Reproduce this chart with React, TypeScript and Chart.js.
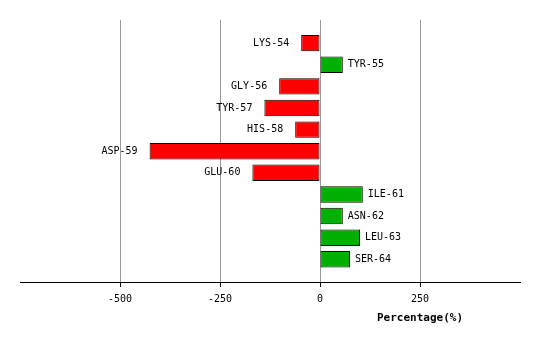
import { useEffect, useRef } from 'react';
import { Chart, registerables } from 'chart.js';

Chart.register(...registerables);

const residues = ['LYS-54', 'TYR-55', 'GLY-56', 'TYR-57', 'HIS-58', 'ASP-59', 'GLU-60', 'ILE-61', 'ASN-62', 'LEU-63', 'SER-64'];
const percentages = [-47, 57, -102, -139, -62, -426, -169, 107, 57, 100, 75];
const xTickValues = [-500, -250, 0, 250];
const xMin = -750;
const xMax = 500;
const axisTitle = 'Percentage(%)';

const labelPlugin = {
  id: 'barLabels',
  afterDatasetsDraw(chart: any) {
    const ctx = chart.ctx;
    const meta = chart.getDatasetMeta(0);
    ctx.save();
    ctx.font = '10px "DejaVu Sans Mono"';
    ctx.fillStyle = '#000';
    ctx.textBaseline = 'middle';
    meta.data.forEach((el: any, i: number) => {
      const v = percentages[i];
      if (v < 0) {
        ctx.textAlign = 'right';
        ctx.fillText(residues[i], el.x - 12, el.y);
      } else {
        ctx.textAlign = 'left';
        ctx.fillText(residues[i], el.x + 5, el.y);
      }
    });
    const xs = chart.scales.x;
    ctx.font = 'bold 11px "DejaVu Sans Mono"';
    ctx.textAlign = 'center';
    ctx.fillText(axisTitle, xs.getPixelForValue(250), 318);
    ctx.restore();
  },
};

export default function App() {
  const ref = useRef<HTMLCanvasElement>(null);
  useEffect(() => {
    document.body.style.margin = '0';
    const chart = new Chart(ref.current!, {
      type: 'bar',
      data: {
        labels: residues,
        datasets: [
          {
            data: percentages.map((v, i) => ({ x: v, y: i })),
            backgroundColor: percentages.map((v) => (v < 0 ? '#ff0000' : '#00b000')),
            borderColor: '#000',
            borderWidth: 1,
            borderSkipped: false,
            categoryPercentage: 1,
            barPercentage: 0.76,
          },
        ],
      },
      options: {
        indexAxis: 'y',
        animation: false,
        responsive: false,
        layout: { padding: { top: 20, left: 20, right: 20, bottom: 29 } },
        plugins: { legend: { display: false }, tooltip: { enabled: false } },
        scales: {
          y: {
            type: 'linear',
            reverse: true,
            offset: false,
            min: -1.07,
            max: 11.05,
            display: false,
            grid: { offset: false },
          },
          x: {
            type: 'linear',
            position: 'bottom',
            min: xMin,
            max: xMax,
            afterBuildTicks: (scale: any) => {
              scale.ticks = xTickValues.map((v) => ({ value: v }));
            },
            grid: { color: '#999', tickColor: '#000', tickLength: 5, lineWidth: 1 },
            border: { color: '#000', width: 1 },
            ticks: {
              color: '#000',
              font: { family: 'DejaVu Sans Mono', size: 10 },
              padding: 6,
              maxRotation: 0,
            },
          },
        },
      },
      plugins: [labelPlugin],
    });
    return () => chart.destroy();
  }, []);
  return (
    <div style={{ position: 'absolute', left: 0, top: 0, width: 540, height: 340 }}>
      <canvas ref={ref} width={540} height={340} />
    </div>
  );
}
